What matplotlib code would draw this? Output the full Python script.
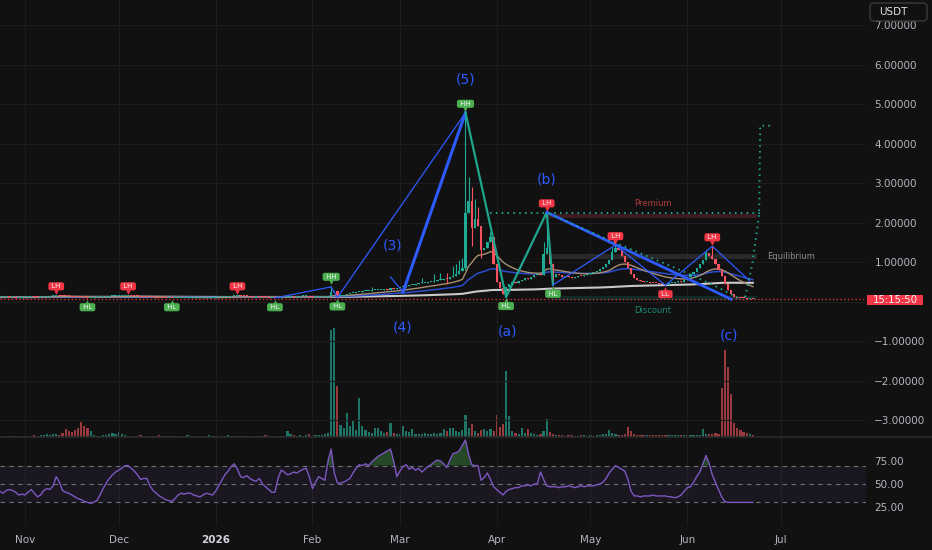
import numpy as np
import pandas as pd
import matplotlib
matplotlib.use('Agg')
import matplotlib.pyplot as plt
import matplotlib.dates as mdates
from matplotlib.transforms import offset_copy, blended_transform_factory, IdentityTransform
from matplotlib.patches import Rectangle, FancyBboxPatch
from matplotlib.lines import Line2D
from matplotlib.ticker import FuncFormatter

plt.rcParams['font.family'] = ['DejaVu Sans']

# ---- data (daily candles, USDT) ----
start = '2025-10-24'
close = [
    # Oct 24-31
    0.11, 0.11, 0.12, 0.11, 0.11, 0.10, 0.10, 0.11,
    # Nov
    0.110, 0.110, 0.120, 0.115, 0.110, 0.115, 0.120, 0.125, 0.130, 0.140,
    0.150, 0.145, 0.140, 0.135, 0.130, 0.125, 0.120, 0.115, 0.110, 0.105,
    0.097, 0.100, 0.105, 0.110, 0.115, 0.120, 0.125, 0.130, 0.135, 0.140,
    # Dec
    0.140, 0.145, 0.150, 0.152, 0.145, 0.135, 0.130, 0.125, 0.120, 0.115,
    0.110, 0.105, 0.100, 0.095, 0.092, 0.090, 0.090, 0.088, 0.090, 0.090,
    0.090, 0.090, 0.090, 0.090, 0.090, 0.090, 0.090, 0.090, 0.095, 0.100,
    0.100,
    # Jan
    0.105, 0.110, 0.115, 0.120, 0.125, 0.130, 0.135, 0.145, 0.140, 0.135,
    0.130, 0.125, 0.120, 0.120, 0.115, 0.110, 0.105, 0.100, 0.100, 0.095,
    0.095, 0.110, 0.120, 0.120, 0.125, 0.120, 0.125, 0.130, 0.130, 0.130,
    0.120,
    # Feb
    0.110, 0.115, 0.120, 0.120, 0.125, 0.150, 0.250, 0.270, 0.130, 0.150,
    0.170, 0.190, 0.210, 0.220, 0.230, 0.250, 0.260, 0.270, 0.270, 0.280,
    0.290, 0.300, 0.300, 0.310, 0.300, 0.330, 0.310, 0.340,
    # Mar
    0.37, 0.38, 0.40, 0.41, 0.42, 0.44, 0.46, 0.47, 0.47, 0.49,
    0.50, 0.52, 0.54, 0.55, 0.57, 0.56, 0.62, 0.65, 0.70, 0.76,
    0.84, 2.24, 2.55, 1.85, 2.10, 1.90, 1.30, 1.35, 1.50, 1.63,
    0.95,
    # Apr
    0.50, 0.33, 0.20, 0.38, 0.45, 0.50, 0.48, 0.52, 0.55, 0.60,
    0.58, 0.62, 0.66, 0.70, 0.68, 1.20, 1.35, 0.95, 0.62, 0.70,
    0.66, 0.62, 0.65, 0.63, 0.60, 0.62, 0.65, 0.64, 0.67, 0.70,
    # May
    0.72, 0.75, 0.78, 0.82, 0.88, 0.95, 1.05, 1.25, 1.35, 1.30,
    1.15, 1.00, 0.85, 0.70, 0.60, 0.55, 0.52, 0.50, 0.50, 0.48,
    0.47, 0.46, 0.45, 0.44, 0.43, 0.46, 0.48, 0.50, 0.52, 0.50,
    0.55,
    # Jun
    0.62, 0.70, 0.75, 0.85, 0.95, 1.05, 1.22, 1.15, 1.08, 0.95,
    0.80, 0.65, 0.45, 0.30, 0.18, 0.12, 0.10, 0.09, 0.08, 0.07,
    0.07, 0.06,
]

wick_high = {'2025-11-11': 0.16, '2025-12-04': 0.16, '2026-01-08': 0.16,
             '2026-02-07': 0.40, '2026-02-20': 0.36, '2026-03-03': 0.50,
             '2026-03-08': 0.60, '2026-03-12': 0.70, '2026-03-14': 0.72,
             '2026-03-16': 0.72, '2026-03-18': 0.90, '2026-03-19': 0.95,
             '2026-03-20': 1.05, '2026-03-21': 1.10, '2026-03-22': 4.78,
             '2026-03-23': 3.15, '2026-03-24': 2.90, '2026-03-25': 2.60,
             '2026-03-26': 2.40, '2026-03-30': 1.75, '2026-04-16': 1.50,
             '2026-04-17': 2.26, '2026-05-08': 1.38, '2026-05-09': 1.43,
             '2026-06-07': 1.30, '2026-06-09': 1.40}
wick_low = {'2025-11-21': 0.08, '2025-12-18': 0.08, '2026-01-20': 0.08,
            '2026-02-09': 0.10, '2026-03-16': 0.45, '2026-03-22': 0.80,
            '2026-03-24': 1.40, '2026-03-27': 1.10, '2026-04-04': 0.11,
            '2026-04-19': 0.42, '2026-05-25': 0.41}

volume = [
    1, 1, 1, 1, 1, 1, 1, 1,
    1, 1, 1, 2, 1, 2, 2, 3, 2, 3, 3, 2, 4, 8, 6, 5, 7, 9, 15, 11,
    9, 6, 2, 1, 1, 2, 2, 3, 4, 3,
    5, 3, 2, 1, 1, 1, 1, 2, 1, 1, 1, 1, 1, 2, 1, 1, 1, 1, 1, 1,
    1, 1, 2, 1, 1, 1, 1, 1, 1, 2, 1,
    1, 1, 1, 1, 2, 1, 1, 1, 1, 1, 1, 1, 1, 1, 1, 1, 2, 1, 1, 1,
    1, 1, 1, 6, 3, 2, 1, 2, 1, 2, 3,
    1, 2, 2, 2, 3, 4, 107, 109, 51, 12, 9, 24, 11, 16, 7, 39, 11, 7, 5, 4,
    9, 9, 6, 4, 5, 14, 4, 3,
    3, 11, 6, 5, 8, 3, 3, 3, 4, 3, 3, 4, 3, 4, 8, 6, 9, 9, 6, 5,
    7, 22, 9, 13, 6, 4, 7, 8, 6, 8, 6,
    22, 10, 13, 66, 21, 6, 4, 3, 9, 4, 8, 4, 3, 2, 3, 6, 18, 5, 3, 2,
    2, 2, 1, 2, 2, 1, 1, 2, 2, 1,
    2, 1, 2, 2, 3, 3, 7, 4, 3, 2, 2, 3, 10, 6, 3, 2, 2, 2, 2, 2,
    2, 2, 2, 2, 2, 2, 2, 2, 2, 2, 2,
    2, 2, 2, 2, 2, 8, 3, 3, 3, 4, 3, 49, 87, 70, 43, 14, 9, 7, 5, 4,
    3, 2,
]

rsi = [
    42, 40, 43, 44, 43, 41, 38, 39,
    38, 41, 44, 40, 36, 38, 43, 45, 44, 48, 58, 52, 43, 41, 40, 38, 36, 34, 33, 31,
    30, 29, 30, 32, 38, 45, 51, 56, 60, 63,
    65, 67, 70, 70, 67, 64, 60, 55, 56, 56, 48, 43, 40, 37, 35, 33, 32, 31, 34, 38,
    40, 39, 40, 40, 38, 37, 36, 38, 40, 39, 38,
    42, 48, 54, 60, 64, 69, 72, 66, 58, 57, 59, 56, 54, 53, 56, 50, 47, 44, 41, 41,
    56, 65, 63, 60, 61, 63, 62, 64, 66, 67, 58,
    45, 52, 58, 56, 54, 75, 88, 62, 51, 51, 52, 54, 56, 62, 67, 71, 70, 72, 70, 74,
    77, 80, 82, 84, 86, 88, 75, 58,
    64, 69, 71, 66, 68, 65, 67, 63, 66, 69, 71, 74, 76, 75, 72, 68, 76, 83, 84, 86,
    92, 98, 82, 71, 70, 70, 54, 57, 62, 55, 47,
    44, 41, 38, 42, 44, 45, 46, 46, 48, 48, 49, 48, 50, 50, 63, 55, 48, 47, 47, 47,
    46, 47, 47, 48, 47, 46, 47, 48, 47, 48,
    48, 48, 49, 50, 52, 56, 62, 66, 70, 68, 66, 64, 55, 42, 37, 37, 36, 37, 37, 37,
    38, 37, 37, 37, 37, 36, 36, 35, 36, 38, 42,
    46, 47, 52, 58, 63, 72, 81, 72, 60, 52, 44, 36, 31, 30, 30, 30, 30, 30, 30, 30,
    30, 30,
]

# swing labels
piv_dates = ['2025-11-11', '2025-11-21', '2025-12-04', '2025-12-18', '2026-01-08',
             '2026-01-20', '2026-02-07', '2026-02-09', '2026-03-22', '2026-04-04',
             '2026-04-17', '2026-04-19', '2026-05-09', '2026-05-25', '2026-06-09']
piv_text = ['LH', 'HL', 'LH', 'HL', 'LH', 'HL', 'HH', 'HL', 'HH', 'HL',
            'LH', 'HL', 'LH', 'LL', 'LH']
piv_price = [0.16, 0.08, 0.16, 0.08, 0.16, 0.08, 0.40, 0.10, 4.78, 0.11,
             2.26, 0.42, 1.43, 0.41, 1.40]

# elliott wave labels
ew_text = ['(3)', '(4)', '(5)', '(a)', '(b)', '(c)']
ew_dates = ['2026-02-26 18:00', '2026-03-02', '2026-03-22', '2026-04-04 08:00',
            '2026-04-17', '2026-06-14 08:00']
ew_price = [1.43, -0.65, 5.61, -0.77, 3.08, -0.85]

# drawn wave lines
thin1_d = ['2026-01-20', '2026-02-07', '2026-02-09', '2026-03-22']
thin1_p = [0.09, 0.37, 0.10, 4.78]
w34_d = ['2026-02-26', '2026-03-02']
w34_p = [0.62, 0.24]
w45_d = ['2026-03-02', '2026-03-22']
w45_p = [0.24, 4.78]
teal_d = ['2026-03-22', '2026-04-04', '2026-04-17', '2026-04-19']
teal_p = [4.78, 0.11, 2.26, 0.42]
thin2_d = ['2026-04-19', '2026-05-09', '2026-05-25', '2026-06-09', '2026-06-21']
thin2_p = [0.42, 1.43, 0.41, 1.40, 0.52]
wbc_d = ['2026-04-17', '2026-06-15']
wbc_p = [2.26, 0.06]
dot_h_d = ['2026-03-30', '2026-06-24 08:00']
dot_h_p = [2.24, 2.24]
dot_diag_d = ['2026-04-18', '2026-05-05', '2026-05-20', '2026-06-01', '2026-06-11', '2026-06-17']
dot_diag_p = [2.22, 1.62, 1.12, 0.72, 0.35, 0.10]
dot_proj_d = ['2026-06-19 12:00', '2026-06-21 18:00', '2026-06-23 08:00', '2026-06-24',
              '2026-06-24 08:00', '2026-06-28 04:00']
dot_proj_p = [0.11, 0.92, 1.81, 2.24, 4.45, 4.45]

# premium / equilibrium / discount zones
zone_names = ['Premium', 'Equilibrium', 'Discount']
zone_start = ['2026-04-16 12:00', '2026-04-18 12:00', '2026-04-18 12:00']
zone_end = ['2026-06-23 08:00'] * 3
zone_lo = [2.12, 1.07, 0.05]
zone_hi = [2.22, 1.20, 0.15]

month_ticks = ['2025-11-01', '2025-12-01', '2026-01-01', '2026-02-01', '2026-03-01',
               '2026-04-01', '2026-05-01', '2026-06-01', '2026-07-01']
month_labels = ['Nov', 'Dec', '2026', 'Feb', 'Mar', 'Apr', 'May', 'Jun', 'Jul']

# ---- styling ----
BG = '#111111'
GRID = '#1d1d1d'
TXT = '#b2b5be'
UP = '#22ab94'
DN = '#f7525f'
BLUE = '#2e5bff'
TEAL = '#1fa58e'


def dn(s):
    return mdates.date2num(pd.to_datetime(s))


dates = pd.date_range(start, periods=len(close), freq='D')
x = mdates.date2num(dates)
c = np.array(close)
o = np.r_[c[0], c[:-1]]
hi = np.maximum(o, c)
lo = np.minimum(o, c)
for k, v in wick_high.items():
    hi[dates.get_loc(pd.Timestamp(k))] = v
for k, v in wick_low.items():
    lo[dates.get_loc(pd.Timestamp(k))] = v
up = c >= o
ccol = np.where(up, UP, DN)
vcol = np.where(up, '#1e7466', '#9b3a3e')

s = pd.Series(c)
ema20 = s.ewm(span=20, adjust=False).mean()
ema50 = s.ewm(span=50, adjust=False).mean()
sma200 = s.rolling(200, min_periods=1).mean()

fig = plt.figure(figsize=(9.32, 5.5), dpi=100, facecolor=BG)
W, H = 932, 550
pw = 866 / W
main_rect = [0, (H - 437) / H, pw, 437 / H]
rsi_rect = [0, 25 / H, pw, 88 / H]

ax_vol = fig.add_axes(main_rect)
ax = fig.add_axes(main_rect, sharex=ax_vol)
ax_rsi = fig.add_axes(rsi_rect, sharex=ax_vol)

ax_vol.set_facecolor(BG)
ax.patch.set_visible(False)
ax_rsi.set_facecolor(BG)

x0 = dn('2025-11-01')
ax.set_xlim(x0 - 8.0, x0 + 269.2)
ax.set_ylim(-3.43, 7.633)
ax_vol.set_ylim(0, 437)
ax_rsi.set_ylim(5.4, 101.1)

for a in (ax, ax_vol, ax_rsi):
    for sp in a.spines.values():
        sp.set_visible(False)
    a.tick_params(length=0)

# volume
ax_vol.bar(x, volume, width=0.7, color=vcol, linewidth=0)
ax_vol.set_yticks([])
ax_vol.tick_params(labelbottom=False)

# grid
ax.set_yticks(range(-3, 8))
ax.yaxis.tick_right()
ax.yaxis.set_major_formatter(FuncFormatter(
    lambda v, p: '' if abs(v) < 1e-9 else f'{v:.5f}'.replace('-', '\u2212')))
ax.tick_params(axis='y', colors=TXT, labelsize=7.5, pad=6)
ax.tick_params(labelbottom=False)
ax.set_xticks([dn(m) for m in month_ticks])
ax.grid(True, color=GRID, lw=0.8, zorder=0)
ax.set_axisbelow(True)

# zones
zone_fc = ['#3d1b1f', '#29292c', '#0f2b26']
for zs, ze, zl, zh, fc in zip(zone_start, zone_end, zone_lo, zone_hi, zone_fc):
    ax.fill_between([dn(zs), dn(ze)], zl, zh, color=fc, lw=0, zorder=1)
ax.text(dn('2026-05-21'), 2.49, 'Premium', color='#b23b3d', fontsize=6,
        ha='center', va='center')
ax.text(dn('2026-05-21'), -0.24, 'Discount', color='#1b8a74', fontsize=6,
        ha='center', va='center')
ax.text(dn('2026-06-26 12:00'), 1.13, 'Equilibrium', color='#8e9098', fontsize=6,
        ha='left', va='center')

# moving averages
ax.plot(x, sma200, color='#c9c9c9', lw=1.5, zorder=2)
ax.plot(x, ema50, color='#2b4ed0', lw=1.1, zorder=2)
ax.plot(x, ema20, color='#a88f74', lw=1.0, zorder=2)

# candles
ax.vlines(x, lo, hi, colors=ccol, lw=0.8, zorder=3)
ax.bar(x, np.maximum(np.abs(c - o), 0.025), bottom=np.minimum(o, c), width=0.74,
       color=ccol, linewidth=0, zorder=3)

# current price line
last = c[-1]
ax.axhline(last, color='#f23645', lw=0.9, ls=(0, (1, 2)), zorder=2)

# wave drawings
def dl(d):
    return [dn(v) for v in d]

ax.plot(dl(thin1_d), thin1_p, color=BLUE, lw=0.9, zorder=4)
ax.plot(dl(w34_d), w34_p, color=BLUE, lw=0.9, zorder=4)
ax.plot(dl(w45_d), w45_p, color=BLUE, lw=2.2, zorder=4)
ax.plot(dl(teal_d), teal_p, color=TEAL, lw=1.6, zorder=4)
ax.plot(dl(thin2_d), thin2_p, color=BLUE, lw=0.9, zorder=4)
ax.plot(dl(wbc_d), wbc_p, color=BLUE, lw=2.0, zorder=4)
for dd, pp in [(dot_h_d, dot_h_p), (dot_diag_d, dot_diag_p), (dot_proj_d, dot_proj_p)]:
    ax.plot(dl(dd), pp, color=TEAL, lw=1.4, ls=(0, (0.8, 2.2)), zorder=4)

# swing labels
for d, t, p in zip(piv_dates, piv_text, piv_price):
    col = '#4caf50' if t.startswith('H') else '#f23645'
    top = t in ('LH', 'HH')
    sgn = 1 if top else -1
    ax.annotate(f' {t} ', xy=(dn(d), p), xytext=(0, sgn * 6.4), textcoords='offset points',
                ha='center', va='center', fontsize=5.0, color='#f0f0f0', zorder=6,
                bbox=dict(boxstyle='round,pad=0.15,rounding_size=0.3', fc=col, ec='none'))
    tr = offset_copy(ax.transData, fig=fig, x=0, y=sgn * 2.4, units='points')
    ax.plot(dn(d), p, marker='v' if top else '^', ms=3.4, color=col, mec='none',
            transform=tr, zorder=6)

for t, d, p in zip(ew_text, ew_dates, ew_price):
    ax.text(dn(d), p, t, color=BLUE, fontsize=10, ha='center', va='center', zorder=6)

# countdown label on price scale
tb = blended_transform_factory(ax.transAxes, ax.transData)
ax.add_patch(Rectangle((1.0012, last - 0.16), 0.0647, 0.26, transform=tb,
                       fc='#f23645', ec='none', clip_on=False, zorder=10))
ax.text(1.0012 + 0.0647 / 2, last - 0.03, '15:15:50', transform=tb, color='#f5f5f5',
        fontsize=7.3, ha='center', va='center', zorder=11, clip_on=False)

# RSI pane
ax_rsi.axhspan(30, 70, color='#7e57c2', alpha=0.09, lw=0)
for lvl in (70, 50, 30):
    ax_rsi.axhline(lvl, color='#787b86', lw=0.8, ls=(0, (4, 4)), alpha=0.9)
rs = np.array(rsi, dtype=float)
ax_rsi.fill_between(x, rs, 70, where=rs > 70, interpolate=True, color='#4caf50',
                    alpha=0.35, lw=0)
ax_rsi.plot(x, rs, color='#7e57c2', lw=1.0)
ax_rsi.set_yticks([25, 50, 75])
ax_rsi.yaxis.tick_right()
ax_rsi.yaxis.set_major_formatter(FuncFormatter(lambda v, p: f'{v:.2f}'))
ax_rsi.tick_params(axis='y', colors=TXT, labelsize=7.5, pad=6)
ax_rsi.set_xticks([dn(m) for m in month_ticks])
ax_rsi.set_xticklabels(month_labels)
ax_rsi.tick_params(axis='x', colors=TXT, labelsize=7.5, pad=7)
for lab in ax_rsi.get_xticklabels():
    if lab.get_text() == '2026':
        lab.set_fontweight('bold')
        lab.set_color('#d1d4dc')
ax_rsi.grid(True, axis='x', color=GRID, lw=0.8)
ax_rsi.set_axisbelow(True)

# pane separator
fig.add_artist(Line2D([0, 1], [1 - 437 / H] * 2, transform=fig.transFigure,
                      color='#2a2a2a', lw=1.2))

# currency box
fig.add_artist(FancyBboxPatch((870, H - 21), 57, 18,
                              boxstyle='round,pad=0,rounding_size=4',
                              transform=IdentityTransform(), fc=BG, ec='#3a3a3a', lw=1))
fig.text(879 / W, 1 - 12 / H, 'USDT', color='#e0e0e0', fontsize=7.5,
         ha='left', va='center')

fig.savefig('out.png', dpi=100, facecolor=BG)
